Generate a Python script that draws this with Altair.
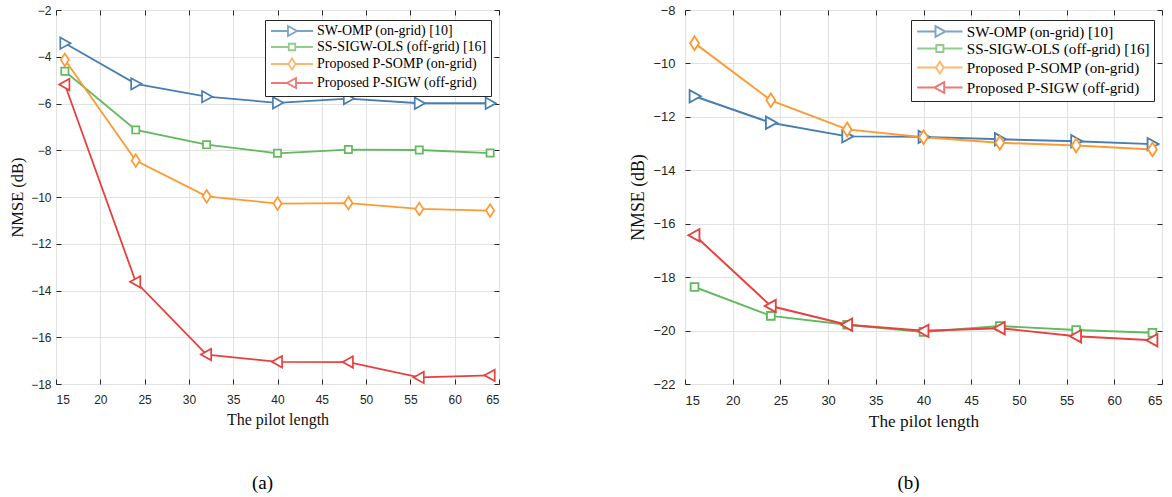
import altair as alt
import pandas as pd

# ---------------- data ----------------
pilot = [16, 24, 32, 40, 48, 56, 64]
series_names = [
    "SW-OMP (on-grid) [10]",
    "SS-SIGW-OLS (off-grid) [16]",
    "Proposed P-SOMP (on-grid)",
    "Proposed P-SIGW (off-grid)",
]
colors = ["#4a7db0", "#62b95e", "#fd9a33", "#e6403f"]

a_swomp = [-3.42, -5.16, -5.71, -5.97, -5.79, -5.99, -5.99]
a_sigwols = [-4.62, -7.13, -7.76, -8.13, -7.97, -7.99, -8.12]
a_psomp = [-4.13, -8.44, -9.97, -10.28, -10.26, -10.51, -10.58]
a_psigw = [-5.19, -13.63, -16.74, -17.05, -17.06, -17.72, -17.63]

b_swomp = [-11.23, -12.22, -12.73, -12.75, -12.84, -12.91, -13.02]
b_sigwols = [-18.37, -19.45, -19.78, -20.05, -19.83, -19.98, -20.08]
b_psomp = [-9.24, -11.38, -12.47, -12.76, -12.97, -13.07, -13.22]
b_psigw = [-16.43, -19.08, -19.78, -20.01, -19.91, -20.21, -20.36]

x_ticks = [15, 20, 25, 30, 35, 40, 45, 50, 55, 60, 65]
a_y_ticks = [-18, -16, -14, -12, -10, -8, -6, -4, -2]
b_y_ticks = [-22, -20, -18, -16, -14, -12, -10, -8]

# marker shapes (unit square paths)
marker_paths = [
    "M-0.8,-1L1,0L-0.8,1Z",          # triangle right
    "M-1,-1H1V1H-1Z",                # square
    "M0,-1L0.65,0L0,1L-0.65,0Z",     # diamond
    "M0.8,-1L-1,0L0.8,1Z",           # triangle left
]
marker_sizes = [130, 52, 160, 130]

# legend symbols: line segment + marker
legend_paths = [
    "M-4.2,0H-0.8M1,0H4.2M-0.8,-1L1,0L-0.8,1Z",
    "M-4.2,0H-0.65M0.65,0H4.2M-0.65,-0.65H0.65V0.65H-0.65Z",
    "M-4.2,0H-0.7M0.7,0H4.2M0,-1.1L0.7,0L0,1.1L-0.7,0Z",
    "M-4.2,0H-1M0.8,0H4.2M0.8,-1L-1,0L0.8,1Z",
]

SERIF = "Liberation Serif"
SANS = "Liberation Sans"
TICK = 5


def make_df(vals):
    rows = []
    for name, ys in zip(series_names, vals):
        for x, y in zip(pilot, ys):
            rows.append({"pilot": x, "nmse": y, "series": name})
    return pd.DataFrame(rows)


def panel(vals, ydom, yticks, width, height, caption, s, ylab_pad, ytitle_pad,
          legx, legy, cap_off):
    df = make_df(vals)
    base = alt.Chart(df)
    xscale = alt.Scale(domain=[15, 65], nice=False)
    yscale = alt.Scale(domain=ydom, nice=False)
    x_main = alt.X(
        "pilot:Q", scale=xscale,
        axis=alt.Axis(
            values=x_ticks, title="The pilot length", grid=True, domain=False,
            offset=-TICK, tickSize=TICK, tickColor="#262626", tickWidth=1,
            labelPadding=10, titlePadding=6,
            labelFont=SANS, labelFontSize=12 * s, labelColor="#262626",
            titleFont=SERIF, titleFontSize=16 * s, titleFontWeight="normal",
            titleColor="#111111", gridColor="#e2e2e2", gridWidth=1,
        ),
    )
    y_main = alt.Y(
        "nmse:Q", scale=yscale,
        axis=alt.Axis(
            values=yticks, title="NMSE (dB)", grid=True, domain=False,
            offset=-TICK, tickSize=TICK, tickColor="#262626", tickWidth=1,
            labelPadding=ylab_pad, titlePadding=ytitle_pad,
            labelFont=SANS, labelFontSize=12 * s, labelColor="#262626",
            titleFont=SERIF, titleFontSize=16.5 * s, titleFontWeight="normal",
            titleColor="#111111", gridColor="#e2e2e2", gridWidth=1,
        ),
    )
    x_none = alt.X("pilot:Q", scale=xscale, axis=None)
    y_none = alt.Y("nmse:Q", scale=yscale, axis=None)
    x_top = alt.X(
        "pilot:Q", scale=xscale,
        axis=alt.Axis(
            orient="top", values=x_ticks, title=None, labels=False, grid=False,
            domain=False, offset=-TICK, tickSize=TICK, tickColor="#262626",
        ),
    )
    y_right = alt.Y(
        "nmse:Q", scale=yscale,
        axis=alt.Axis(
            orient="right", values=yticks, title=None, labels=False, grid=False,
            domain=False, offset=-TICK, tickSize=TICK, tickColor="#262626",
        ),
    )

    layers = []
    for i, name in enumerate(series_names):
        sub = base.transform_filter(alt.datum.series == name)
        xe, ye = (x_main, y_main) if i == 0 else (x_none, y_none)
        layers.append(
            sub.mark_line(color=colors[i], strokeWidth=1.8 * s).encode(x=xe, y=ye)
        )
    for i, name in enumerate(series_names):
        sub = base.transform_filter(alt.datum.series == name)
        layers.append(
            sub.mark_point(
                shape=marker_paths[i], size=marker_sizes[i] * s * s,
                stroke=colors[i], fill="white", filled=False,
                strokeWidth=1.7 * s, opacity=1,
            ).encode(x=x_none, y=y_none)
        )
    legend_layer = base.transform_filter("datum.pilot < 0").mark_point(
        filled=False, strokeWidth=1.8 * s
    ).encode(
        x=x_top,
        y=y_right,
        color=alt.Color(
            "series:N",
            scale=alt.Scale(domain=series_names, range=colors),
            legend=alt.Legend(
                title=None, orient="none", legendX=legx, legendY=legy,
                fillColor="white", strokeColor="#262626", padding=4,
                labelFont=SERIF, labelFontSize=14 * s, labelColor="black",
                labelOffset=18 * s, symbolOffset=16 * s, symbolSize=100 * s * s,
                symbolFillColor="white", symbolStrokeWidth=1.8 * s,
                rowPadding=0, labelLimit=400,
            ),
        ),
        shape=alt.Shape(
            "series:N",
            scale=alt.Scale(domain=series_names, range=legend_paths),
        ),
    )
    layers.append(legend_layer)
    return alt.layer(*layers).resolve_axis(x="independent", y="independent").properties(
        width=width,
        height=height,
        title=alt.TitleParams(
            caption, orient="bottom", anchor="middle", dx=-15, offset=cap_off,
            font=SERIF, fontSize=19, fontWeight="normal", color="black",
        ),
    )


pa = panel([a_swomp, a_sigwols, a_psomp, a_psigw], [-18, -2], a_y_ticks, 443, 374,
           "(a)", 1.0, 5, 5, 209, 10, 47)
pb = panel([b_swomp, b_sigwols, b_psomp, b_psigw], [-22, -8], b_y_ticks, 477, 374,
           "(b)", 1.08, 10, 6, 226, 10, 44)

chart = alt.hconcat(pa, pb, spacing=186, bounds="flush").resolve_scale(
    color="independent", shape="independent"
).configure_view(stroke="#262626", strokeWidth=1).configure(
    padding={"left": 9, "top": 3, "right": 5, "bottom": 5},
    background="white",
)

chart.save("out.html", embed_options={"renderer": "svg", "actions": False})
